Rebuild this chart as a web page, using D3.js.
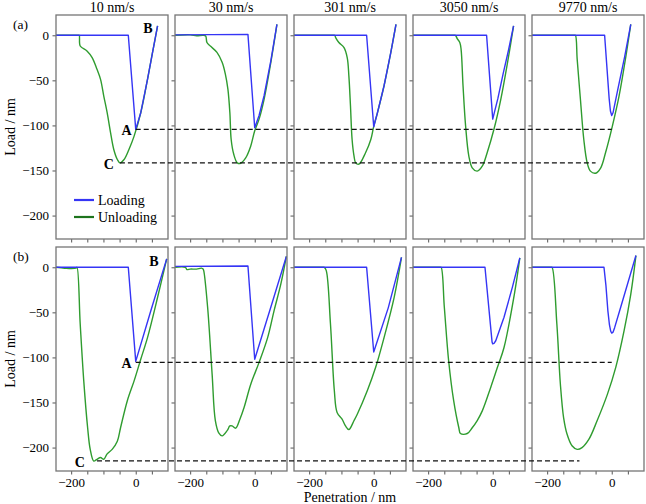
<!DOCTYPE html>
<html>
<head>
<meta charset="utf-8">
<script src="https://cdn.jsdelivr.net/npm/d3@7"></script>
<style>
  html, body { margin: 0; padding: 0; background: #fff; }
  svg { display: block; }
  text { font-family: "Liberation Serif", "Times New Roman", serif; fill: #000; }
</style>
</head>
<body>
<svg id="chart" width="646" height="504"></svg>
<script>
// ---------------- data ----------------
const rates = ["10 nm/s", "30 nm/s", "301 nm/s", "3050 nm/s", "9770 nm/s"];
const rowTags = ["(a)", "(b)"];
const yTicks = [0, -50, -100, -150, -200];
const xTicks = [-200, -150, -100, -50, 0, 50];
const xTickLabels = [-200, 0];
const seriesNames = ["Loading", "Unloading"];

// row (a): loading curves [penetration nm, load nm]
const loadA = [
  [[-247,0],[-23,0],[0,-104.4],[15.6,-85.9],[36.5,-48.9],[52,-19.3],[67.7,10.4]],
  [[-247,0.5],[-21,1],[0,-102.6],[13.5,-89],[29,-67],[50,-28],[68.8,12]],
  [[-247,0],[-22,0],[0,-101.5],[11.5,-86],[32,-56],[53,-19],[69,12]],
  [[-247,0],[-19,0],[0,-93],[16,-70],[32,-43],[48,-18],[64.6,10.4]],
  [[-247,0],[-22,0],[-8,-70],[-4,-84],[0,-89],[4,-86],[20,-58],[40,-24],[59,12]]
];
// row (a): unloading curves
const unloadA = [
  [[-247,0],[-200,0],[-178,0],[-175,0],[-172,-11.9],[-151,-17.4],[-135,-24.8],[-120,-37.8],[-109,-48.9],[-99,-67.4],[-88.5,-85.9],[-78,-108],[-68,-126.7],[-57,-137.8],[-49,-141.5],[-36,-137.8],[-21,-126.7],[-5,-111.9],[15.6,-85.9],[36.5,-48.9],[52,-19.3],[67.7,10.4]],
  [[-247,0],[-200,0.5],[-180,-0.5],[-160,0],[-152,-0.7],[-148,-8],[-137.5,-12],[-117,-19],[-101,-30],[-91,-43],[-83,-60],[-77,-86],[-73,-115.6],[-65,-132],[-54,-141.5],[-44,-142],[-28,-136],[-12.5,-123],[0,-106],[13.5,-93],[29,-71],[50,-30],[68.8,12]],
  [[-247,0],[-126,0],[-121,0],[-118,-2.6],[-108,-8],[-92,-13.7],[-82,-25],[-77,-45],[-72,-78.5],[-67,-115.6],[-61,-134],[-56,-141.5],[-46,-143],[-25,-130],[-9,-115.6],[0,-101],[11.5,-86],[32,-56],[53,-19],[69,12]],
  [[-247,0],[-120,0],[-115.6,0],[-110,-3.7],[-102,-8],[-98,-15.6],[-92,-56],[-84,-100.7],[-74,-134],[-63.5,-147],[-48,-150.7],[-32,-145],[-17,-130],[4,-104],[25,-71],[46,-30],[64.6,10.4]],
  [[-247,0],[-116,0],[-112.5,0],[-107,-26.7],[-97,-71],[-86.5,-115.6],[-76,-141.5],[-66,-150.7],[-50,-153],[-34,-147],[-19,-130],[2,-100.7],[23,-67],[44,-23],[59,12]]
];
// row (b): loading curves
const loadB = [
  [[-247,0],[-23,0],[0,-104.4],[47,-48],[96,9.3]],
  [[-247,1],[-21,1.5],[0,-102],[50,-44],[98,12]],
  [[-247,0],[-22,0],[0,-94],[45,-45],[86,11]],
  [[-247,0],[-24,0],[-2,-83],[0,-85],[4,-84.5],[9.4,-81.5],[35,-55.5],[61,-22],[84,10.4]],
  [[-247,0],[-24,0],[-18,-20],[-12,-48],[-7,-64],[-3,-71],[0,-73],[4,-72],[9,-67],[28,-44],[49,-18.5],[75,13]]
];
// row (b): unloading curves
const unloadB = [
  [[-247,0],[-220,-1],[-200,-1.5],[-185,-1],[-182,0],[-172,-63],[-161,-126],[-149,-178],[-141,-202],[-130,-215],[-120,-213],[-109,-211],[-99,-213],[-88.5,-207],[-73,-202],[-57,-193],[-47,-178],[-26,-148],[-5,-126],[15.6,-102],[36.5,-78],[68,-33],[96,9.3]],
  [[-247,0],[-215,0],[-210,-2.5],[-200,-2],[-180,-2],[-165,-1],[-160,-2],[-158,-3.7],[-146,-44],[-132,-118.5],[-122,-170],[-111,-184],[-101,-187],[-85,-181],[-77,-176],[-70,-176],[-59,-178.5],[-46,-168.5],[-33,-155.5],[-12.5,-130],[13.5,-105.5],[40,-78],[60,-48],[81,-18.5],[98,12]],
  [[-247,0],[-157,0],[-153,0],[-147,-3.7],[-134,-63],[-122,-137],[-113.5,-161],[-98,-168.5],[-87.5,-176],[-77,-180],[-61,-170],[-51,-163],[-20,-137],[6,-111],[32,-78],[63.5,-33],[86,11]],
  [[-247,0],[-164,0],[-160,0],[-150,-44],[-136.5,-104],[-121,-148],[-105,-178],[-100,-184.4],[-79,-184.4],[-63.5,-178],[-48,-170],[-32,-159],[-6,-133],[14.6,-111],[35,-89],[67,-30],[84,10.4]],
  [[-247,0],[-189,0],[-185,0],[-170,-63],[-159,-130],[-149,-167],[-138.5,-185],[-123,-198],[-107,-202],[-92,-200],[-71,-191],[-45,-170],[-13.5,-141],[12.5,-111],[38.5,-70],[59,-30],[75,13]]
];
// reference levels (A, C) per row: [load, x start in first panel, x end in last panel]
const levelsA = [[-104.4, 0, 0], [-141.5, -49, -50]];
const levelsB = [[-105.5, 0, 0], [-214.8, -120, -100]];

// ---------------- layout ----------------
const svg = d3.select("#chart");
const pw = 112, ph = 224;
const left0 = 56, step = 119;
const rowTops = [15, 247];
const blue = "#3535f5", green = "#2f9c2f";

const x = d3.scaleLinear().domain([-247, 100]).range([0, pw]);
const y = d3.scaleLinear().domain([-226, 22.5]).range([ph, 0]);

const fmt = d3.format("");
const line = d3.line().x(d => x(d[0])).y(d => y(d[1]));
const smooth = d3.line().x(d => x(d[0])).y(d => y(d[1])).curve(d3.curveCatmullRom.alpha(0.5));

const rows = [
  { load: loadA, unload: unloadA, levels: levelsA },
  { load: loadB, unload: unloadB, levels: levelsB }
];

rows.forEach((row, r) => {
  const top = rowTops[r];
  rates.forEach((rate, i) => {
    const g = svg.append("g").attr("transform", `translate(${left0 + i * step},${top})`);

    // axes
    const ya = d3.axisLeft(y).tickValues(yTicks).tickSize(3.5).tickPadding(3.5)
      .tickFormat(i === 0 ? fmt : () => "");
    const yg = g.append("g").call(ya);
    const xa = d3.axisBottom(x).tickValues(xTicks).tickSize(3.5).tickPadding(3)
      .tickFormat(d => (r === 1 && xTickLabels.includes(d)) ? fmt(d) : "");
    const xg = g.append("g").attr("transform", `translate(0,${ph})`).call(xa);
    [yg, xg].forEach(a => {
      a.attr("font-family", null);
      a.select(".domain").remove();
      a.selectAll(".tick line").attr("stroke", "#555").attr("stroke-width", 1);
      a.selectAll(".tick text").style("font-family", '"Liberation Serif", serif').style("font-size", "13px").attr("fill", "#000");
    });

    // curves
    g.append("path").attr("d", smooth(row.unload[i])).attr("fill", "none")
      .attr("stroke", green).attr("stroke-width", 1.4).attr("stroke-linejoin", "round");
    g.append("path").attr("d", line(row.load[i])).attr("fill", "none")
      .attr("stroke", blue).attr("stroke-width", 1.4).attr("stroke-linejoin", "round");

    // frame
    g.append("rect").attr("x", 0).attr("y", 0).attr("width", pw).attr("height", ph)
      .attr("fill", "none").attr("stroke", "#767676").attr("stroke-width", 1.3);

    if (r === 0) {
      svg.append("text").attr("x", left0 + i * step + pw / 2).attr("y", 12)
        .attr("text-anchor", "middle").style("font-size", "14px").text(rate);
    }
  });

  // dashed reference lines spanning panels
  row.levels.forEach(lv => {
    svg.append("line")
      .attr("x1", left0 + x(lv[1])).attr("x2", left0 + 4 * step + x(lv[2]))
      .attr("y1", top + y(lv[0])).attr("y2", top + y(lv[0]))
      .attr("stroke", "#111").attr("stroke-width", 1.3).attr("stroke-dasharray", "5,3");
  });

  // row tag and y label
  svg.append("text").attr("x", 13).attr("y", top + 14).style("font-size", "13.5px").text(rowTags[r]);
  svg.append("text").attr("transform", `translate(15,${top + ph / 2}) rotate(-90)`)
    .attr("text-anchor", "middle").style("font-size", "14px").text("Load / nm");

  // point labels
  const lastLoad = row.load[0][row.load[0].length - 1];
  const lab = (t, px, py) => svg.append("text").attr("x", px).attr("y", py)
    .attr("text-anchor", "end").style("font-size", "14px").style("font-weight", "bold").text(t);
  lab("B", left0 + x(lastLoad[0]) - 5 - (r === 1 ? 3 : 0), top + y(lastLoad[1]) + 7);
  lab("A", left0 + x(row.levels[0][1]) - 4, top + y(row.levels[0][0]) + 6);
  lab("C", left0 + x(row.levels[1][1]) - 6 - (r === 1 ? 6 : 0), top + y(row.levels[1][0]) + 6);
});

// x label
svg.append("text").attr("x", left0 + 2 * step + pw / 2).attr("y", 502)
  .attr("text-anchor", "middle").style("font-size", "14px").text("Penetration / nm");

// legend
const lg = svg.append("g").attr("transform", `translate(${left0},${rowTops[0]})`);
[blue, "#1d741d"].forEach((c, k) => {
  const ly = 185 + k * 17;
  lg.append("line").attr("x1", 18).attr("x2", 38).attr("y1", ly).attr("y2", ly)
    .attr("stroke", c).attr("stroke-width", 2.2);
  lg.append("text").attr("x", 42).attr("y", ly + 4.5).style("font-size", "14px").text(seriesNames[k]);
});
</script>
</body>
</html>
